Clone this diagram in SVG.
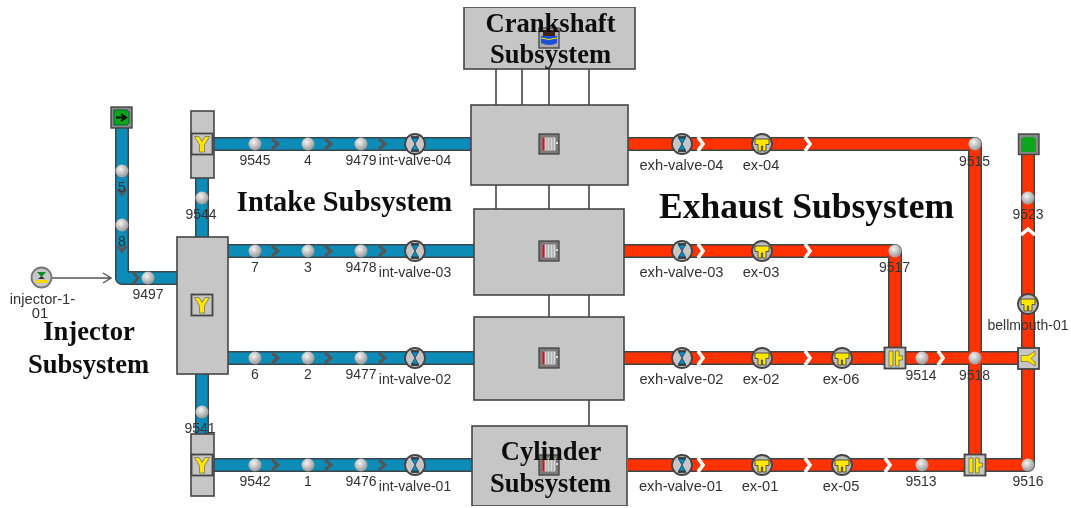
<svg xmlns="http://www.w3.org/2000/svg" width="1071" height="508" viewBox="0 0 1071 508">
<style>
.po{fill:none;stroke:#3c4448;stroke-width:14;stroke-linejoin:round}
.pb{fill:none;stroke:#0b8cb8;stroke-width:11;stroke-linejoin:round}
.pr{fill:none;stroke:#ff3300;stroke-width:11;stroke-linejoin:round}
.shaft{stroke:#444;stroke-width:1.6;fill:none}
.box{fill:#c6c6c6;stroke:#444;stroke-width:1.6}
.lb{font-family:"Liberation Sans",Arial,sans-serif;font-size:14px;fill:#333;text-anchor:middle}
.lw{font-size:14.700px}
.tt{font-family:"Liberation Serif","Times New Roman",serif;font-weight:bold;font-size:26.600px;fill:#111;text-anchor:middle}
.cb{fill:none;stroke:#555;stroke-width:3}
.cw{fill:none;stroke:#fff;stroke-width:3.600}
</style>
<defs>
<filter id="soft" x="0" y="0" width="100%" height="100%"><feGaussianBlur stdDeviation="0.45"/></filter>
<radialGradient id="g" cx="0.4" cy="0.35" r="0.75"><stop offset="0" stop-color="#f4f4f4"/><stop offset="1" stop-color="#8a8a8a"/></radialGradient>
<symbol id="dot" overflow="visible"><circle r="6.500" fill="url(#g)"/></symbol>
<symbol id="valve" overflow="visible"><circle r="10" fill="#c6c6c6" stroke="#444" stroke-width="1.8"/><path d="M-4-7H4M-4 7H4" stroke="#222" stroke-width="1.400"/><path d="M-3.500-6H3.500L0 0 3.500 6H-3.500L0 0Z" fill="#0b8cc0" stroke="#123" stroke-width="0.6"/></symbol>
<symbol id="tee" overflow="visible"><circle r="10" fill="#bcbcbc" stroke="#444" stroke-width="1.8"/><path d="M-7-5H7V0.500H4V7H0.600V2H-0.600V7H-4V0.500H-7Z" fill="#ffe600" stroke="#333" stroke-width="0.8"/></symbol>
<symbol id="yb" overflow="visible"><rect x="-10.500" y="-10.500" width="21" height="21" fill="#c6c6c6" stroke="#444" stroke-width="1.800"/><path d="M-7.500-7.500H-3L0-2.500 3-7.500H7.500L2.500 1V8H-2.500V1Z" fill="#ffe600" stroke="#555" stroke-width="0.600"/></symbol>
<symbol id="jn" overflow="visible"><rect x="-10.500" y="-10.500" width="21" height="21" fill="#c6c6c6" stroke="#444" stroke-width="1.800"/><path d="M-6-7H-2V8H-6ZM0.500-7H4V-2H7.500V2H4V8H0.500Z" fill="#ffe600" stroke="#444" stroke-width="0.600"/></symbol>
<symbol id="cyl" overflow="visible"><rect x="-10" y="-10" width="20" height="20" fill="#7a7a7a" stroke="#444" stroke-width="1.300"/><rect x="-6.500" y="-6.500" width="13" height="13" fill="#d8d8d8"/><path d="M-5.500-6.500V6.500" stroke="#c01818" stroke-width="2.200"/><path d="M-2-6V6M1-6V6M4-6V6" stroke="#999" stroke-width="1"/><path d="M7-1H9" stroke="#fff" stroke-width="1.500"/></symbol>
</defs>
<rect width="1071" height="508" fill="#fff"/>
<g filter="url(#soft)">
<g id="connectors">
<path class="shaft" d="M496 69V105M522 69V105M549 69V105M589 69V105M496 185V209M549 185V209M589 185V209M549 295V317M589 295V317M589 400V426"/>
<path d="M51 278H111M103 273L111 278 103 283" fill="none" stroke="#555" stroke-width="1.400"/>
<g class="po"><path d="M122 118V278H177"/><path d="M202 144V434"/><path d="M214 144H471M228 251H474M228 358H474M214 465H472"/></g>
<g class="pb"><path d="M122 118V278H177"/><path d="M202 178V237M202 374V434"/><path d="M214 144H471M228 251H474M228 358H474M214 465H472"/></g>
<g class="po"><path d="M628 144H975V465M624 251H895V358M624 358H1028M628 465H1028V144"/></g>
<g class="pr"><path d="M628 144H975V465M624 251H895V358M624 358H1028M628 465H1028V144"/></g>
<g class="cb">
<path d="M118 189L122 194 126 189M118 246L122 251 126 246M133 272L138 278 133 284"/>
<path d="M272 139L278 144 272 149M325 139L331 144 325 149M379 139L385 144 379 149"/>
<path d="M272 246L278 251 272 256M325 246L331 251 325 256M379 246L385 251 379 256"/>
<path d="M272 353L278 358 272 363M325 353L331 358 325 363M379 353L385 358 379 363"/>
<path d="M272 460L278 465 272 470M325 460L331 465 325 470M379 460L385 465 379 470"/>
</g>
<g class="cw">
<path d="M698 137L703 144 698 151M805 137L810 144 805 151"/>
<path d="M698 244L703 251 698 258M805 244L810 251 805 258"/>
<path d="M698 351L703 358 698 365M805 351L810 358 805 365M938 351L943 358 938 365"/>
<path d="M698 458L703 465 698 472M805 458L810 465 805 472M885 458L890 465 885 472"/>
<path d="M1021 235L1028 229 1035 235"/>
</g>
</g>
<g id="crankshaft"><rect class="box" x="464" y="7" width="171" height="62"/><rect x="539" y="28" width="20" height="20" fill="#aaa" stroke="#444" stroke-width="1.300"/><path d="M541 43Q549 47 557 43V36H541Z" fill="#1c50d8"/><rect x="543" y="30" width="12" height="6" fill="#402018"/><path d="M541 38Q549 41 557 38" stroke="#ffdf00" fill="none"/><text class="tt" x="550.500" y="32">Crankshaft</text><text class="tt" x="550.500" y="63">Subsystem</text></g>
<g id="cyl-4"><rect class="box" x="471" y="105" width="157" height="80"/><use href="#cyl" x="549" y="144"/></g>
<g id="cyl-3"><rect class="box" x="474" y="209" width="150" height="86"/><use href="#cyl" x="549" y="251"/></g>
<g id="cyl-2"><rect class="box" x="474" y="317" width="150" height="83"/><use href="#cyl" x="549" y="358"/></g>
<g id="cyl-1"><rect class="box" x="472" y="426" width="155" height="80"/><use href="#cyl" x="549" y="465"/><text class="tt" x="551" y="460">Cylinder</text><text class="tt" x="550.500" y="492">Subsystem</text></g>
<g id="manifold"><rect class="box" x="177" y="237" width="51" height="137"/><use href="#yb" x="202" y="305"/></g>
<g id="y-top"><rect class="box" x="191" y="111" width="23" height="67"/><use href="#yb" x="202" y="144"/></g>
<g id="y-bottom"><rect class="box" x="191" y="434" width="23" height="62"/><use href="#yb" x="202" y="465"/></g>
<g id="inlet"><rect x="111" y="107" width="21" height="21" fill="#888" stroke="#444" stroke-width="1.400"/><path d="M114 110H127L129 112V123L127 125H114Z" fill="#0aa51e" stroke="#063"/><path d="M116 117.500H124M121 114L126 117.500 121 121" stroke="#111" stroke-width="2" fill="none"/></g>
<g id="outlet"><rect x="1018.500" y="134" width="20.500" height="20.500" fill="#888" stroke="#444" stroke-width="1.400"/><path d="M1021 139L1024 137H1033L1036 139V152H1021Z" fill="#0aa51e"/></g>
<g id="injector"><circle cx="41.500" cy="277.500" r="10" fill="#c6c6c6" stroke="#777" stroke-width="1.800"/><path d="M37 272H46L41.500 277Z" fill="#0a8a20"/><path d="M35 280H48V283H35Z" fill="#f5d800"/><path d="M38 279L41.500 276 45 279Z" fill="#333"/><text class="lb lw" x="42.500" y="304">injector-1-</text><text class="lb lw" x="40" y="318">01</text></g>
<g id="n5"><use href="#dot" x="122" y="171"/><text class="lb" x="122" y="192">5</text></g>
<g id="n8"><use href="#dot" x="122" y="225"/><text class="lb" x="122" y="246">8</text></g>
<g id="n9497"><use href="#dot" x="148" y="278"/><text class="lb" x="148" y="299">9497</text></g>
<g id="n9544"><use href="#dot" x="202" y="198"/><text class="lb" x="201" y="219">9544</text></g>
<g id="n9541"><use href="#dot" x="202" y="412"/><text class="lb" x="200" y="433">9541</text></g>
<g id="n9545"><use href="#dot" x="255" y="144"/><text class="lb" x="255" y="165">9545</text></g>
<g id="n4"><use href="#dot" x="308" y="144"/><text class="lb" x="308" y="165">4</text></g>
<g id="n9479"><use href="#dot" x="361" y="144"/><text class="lb" x="361" y="165">9479</text></g>
<g id="iv4"><use href="#valve" x="415" y="144"/><text class="lb" x="415" y="165">int-valve-04</text></g>
<g id="n7"><use href="#dot" x="255" y="251"/><text class="lb" x="255" y="272">7</text></g>
<g id="n3"><use href="#dot" x="308" y="251"/><text class="lb" x="308" y="272">3</text></g>
<g id="n9478"><use href="#dot" x="361" y="251"/><text class="lb" x="361" y="272">9478</text></g>
<g id="iv3"><use href="#valve" x="415" y="251"/><text class="lb" x="415" y="277">int-valve-03</text></g>
<g id="n6"><use href="#dot" x="255" y="358"/><text class="lb" x="255" y="379">6</text></g>
<g id="n2"><use href="#dot" x="308" y="358"/><text class="lb" x="308" y="379">2</text></g>
<g id="n9477"><use href="#dot" x="361" y="358"/><text class="lb" x="361" y="379">9477</text></g>
<g id="iv2"><use href="#valve" x="415" y="358"/><text class="lb" x="415" y="384">int-valve-02</text></g>
<g id="n9542"><use href="#dot" x="255" y="465"/><text class="lb" x="255" y="486">9542</text></g>
<g id="n1"><use href="#dot" x="308" y="465"/><text class="lb" x="308" y="486">1</text></g>
<g id="n9476"><use href="#dot" x="361" y="465"/><text class="lb" x="361" y="486">9476</text></g>
<g id="iv1"><use href="#valve" x="415" y="465"/><text class="lb" x="415" y="491">int-valve-01</text></g>
<g id="ev4"><use href="#valve" x="682" y="144"/><text class="lb lw" x="681.500" y="170">exh-valve-04</text></g>
<g id="ex4"><use href="#tee" x="762" y="144"/><text class="lb lw" x="761" y="170">ex-04</text></g>
<g id="ev3"><use href="#valve" x="682" y="251"/><text class="lb lw" x="681.500" y="277">exh-valve-03</text></g>
<g id="ex3"><use href="#tee" x="762" y="251"/><text class="lb lw" x="761" y="277">ex-03</text></g>
<g id="ev2"><use href="#valve" x="682" y="358"/><text class="lb lw" x="681.500" y="384">exh-valve-02</text></g>
<g id="ex2"><use href="#tee" x="762" y="358"/><text class="lb lw" x="761" y="384">ex-02</text></g>
<g id="ex6"><use href="#tee" x="842" y="358"/><text class="lb lw" x="841" y="384">ex-06</text></g>
<g id="ev1"><use href="#valve" x="682" y="465"/><text class="lb lw" x="681" y="491">exh-valve-01</text></g>
<g id="ex1"><use href="#tee" x="762" y="465"/><text class="lb lw" x="760" y="491">ex-01</text></g>
<g id="ex5"><use href="#tee" x="842" y="465"/><text class="lb lw" x="841" y="491">ex-05</text></g>
<g id="n9515"><use href="#dot" x="975" y="144"/><text class="lb" x="974.500" y="166">9515</text></g>
<g id="n9517"><use href="#dot" x="895" y="251"/><text class="lb" x="894.500" y="272">9517</text></g>
<g id="j-upper"><use href="#jn" x="895" y="358"/></g>
<g id="n9514"><use href="#dot" x="922" y="358"/><text class="lb" x="921" y="380">9514</text></g>
<g id="n9518"><use href="#dot" x="975" y="358"/><text class="lb" x="974.500" y="380">9518</text></g>
<g id="y-right"><rect x="1018" y="348" width="21" height="21" fill="#c6c6c6" stroke="#444" stroke-width="1.800"/><path d="M1021 355.500H1028L1035 351V355L1031 358.500 1035 362V366L1028 361.500H1021Z" fill="#ffe600" stroke="#555" stroke-width="0.600"/></g>
<g id="n9513"><use href="#dot" x="922" y="465"/><text class="lb" x="921" y="486">9513</text></g>
<g id="j-lower"><use href="#jn" x="975" y="465"/></g>
<g id="n9516"><use href="#dot" x="1028" y="465"/><text class="lb" x="1028" y="486">9516</text></g>
<g id="n9523"><use href="#dot" x="1028" y="198"/><text class="lb" x="1028" y="219">9523</text></g>
<g id="bell"><use href="#tee" x="1028" y="304"/><text class="lb" x="1028" y="330">bellmouth-01</text></g>
<g id="titles"><text class="tt" x="89" y="340">Injector</text><text class="tt" x="88.500" y="373">Subsystem</text><text class="tt" x="344.500" y="211" style="font-size:28.400px">Intake Subsystem</text><text class="tt" x="806.500" y="218" style="font-size:35.500px">Exhaust Subsystem</text></g>
</g>
</svg>
